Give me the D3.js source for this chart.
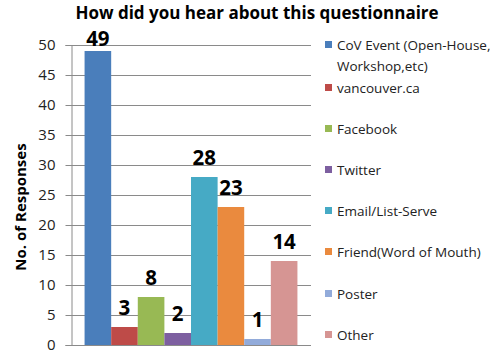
<!DOCTYPE html>
<html>
<head>
<meta charset="utf-8">
<script src="https://cdn.jsdelivr.net/npm/d3@7"></script>
<style>
  html, body { margin: 0; padding: 0; background: #fff; }
  svg { display: block; font-family: "Open Sans", "DejaVu Sans", sans-serif; }
</style>
</head>
<body>
<svg id="chart" width="498" height="358"></svg>
<script>
// Survey responses: how people heard about the questionnaire
const sources = [
  "CoV Event (Open-House, Workshop,etc)",
  "vancouver.ca",
  "Facebook",
  "Twitter",
  "Email/List-Serve",
  "Friend(Word of Mouth)",
  "Poster",
  "Other"
];
const responses = [49, 3, 8, 2, 28, 23, 1, 14];
const colors = ["#4A7EBB", "#BE4B48", "#98B954", "#7D5FA0", "#46AAC5", "#EA8A3E", "#92ABDA", "#D69593"];
const yTicks = [0, 5, 10, 15, 20, 25, 30, 35, 40, 45, 50];
const legendLines = [
  ["CoV Event (Open-House,", "Workshop,etc)"],
  ["vancouver.ca"],
  ["Facebook"],
  ["Twitter"],
  ["Email/List-Serve"],
  ["Friend(Word of Mouth)"],
  ["Poster"],
  ["Other"]
];

const svg = d3.select("#chart");
const plot = { left: 71, right: 311, top: 45, bottom: 345 };

const y = d3.scaleLinear().domain([0, 50]).range([plot.bottom, plot.top]);
const x = d3.scaleBand().domain(sources).range([plot.left, plot.right])
  .paddingInner(0).paddingOuter(0.51);

// Title
svg.append("text")
  .attr("x", 257).attr("y", 19)
  .attr("text-anchor", "middle")
  .attr("font-size", 17).attr("font-weight", "bold")
  .attr("fill", "#000")
  .text("How did you hear about this questionnaire");

// Gridlines
svg.append("g").selectAll("line")
  .data(yTicks.filter(d => d > 0))
  .join("line")
  .attr("x1", plot.left).attr("x2", plot.right)
  .attr("y1", d => Math.round(y(d)) + 0.5).attr("y2", d => Math.round(y(d)) + 0.5)
  .attr("stroke", "#8a8a8a").attr("stroke-width", 1);

// Y axis
const yAxis = svg.append("g")
  .attr("transform", `translate(${plot.left + 0.5},0)`)
  .call(d3.axisLeft(y).tickValues(yTicks).tickSize(6).tickPadding(10));
yAxis.select(".domain").attr("stroke", "#8a8a8a");
yAxis.selectAll(".tick line").attr("stroke", "#8a8a8a");
yAxis.selectAll(".tick text")
  .attr("font-family", "'Open Sans', sans-serif")
  .attr("font-size", 15).attr("fill", "#222");

// Baseline
svg.append("line")
  .attr("x1", plot.left).attr("x2", plot.right)
  .attr("y1", plot.bottom + 0.5).attr("y2", plot.bottom + 0.5)
  .attr("stroke", "#8a8a8a");

// Y axis title
svg.append("text")
  .attr("transform", `translate(26,${(plot.top + plot.bottom) / 2 + 12}) rotate(-90)`)
  .attr("text-anchor", "middle")
  .attr("font-size", 15).attr("font-weight", "bold")
  .text("No. of Responses");

// Bars
svg.append("g").selectAll("rect")
  .data(sources)
  .join("rect")
  .attr("x", d => x(d))
  .attr("width", x.bandwidth())
  .attr("y", (d, i) => y(responses[i]))
  .attr("height", (d, i) => plot.bottom - y(responses[i]))
  .attr("fill", (d, i) => colors[i]);

// Value labels
svg.append("g").selectAll("text")
  .data(sources)
  .join("text")
  .attr("x", d => x(d) + x.bandwidth() / 2)
  .attr("y", (d, i) => Math.max(y(responses[i]) - 12, plot.top + 1))
  .attr("text-anchor", "middle")
  .attr("font-size", 20.5).attr("font-weight", "bold")
  .text((d, i) => responses[i]);

// Legend
const legendY = [45, 88, 129, 170, 211, 252, 294, 335];
const legend = svg.append("g").selectAll("g")
  .data(sources)
  .join("g")
  .attr("transform", (d, i) => `translate(325,${legendY[i]})`);
legend.append("rect")
  .attr("x", 0).attr("y", -4).attr("width", 7).attr("height", 7)
  .attr("fill", (d, i) => colors[i]);
legend.append("text")
  .attr("x", 12).attr("y", 5)
  .attr("font-size", 13.5).attr("fill", "#222")
  .selectAll("tspan")
  .data((d, i) => legendLines[i])
  .join("tspan")
  .attr("x", 12)
  .attr("dy", (d, j) => j === 0 ? 0 : 21)
  .text(d => d);
</script>
</body>
</html>
